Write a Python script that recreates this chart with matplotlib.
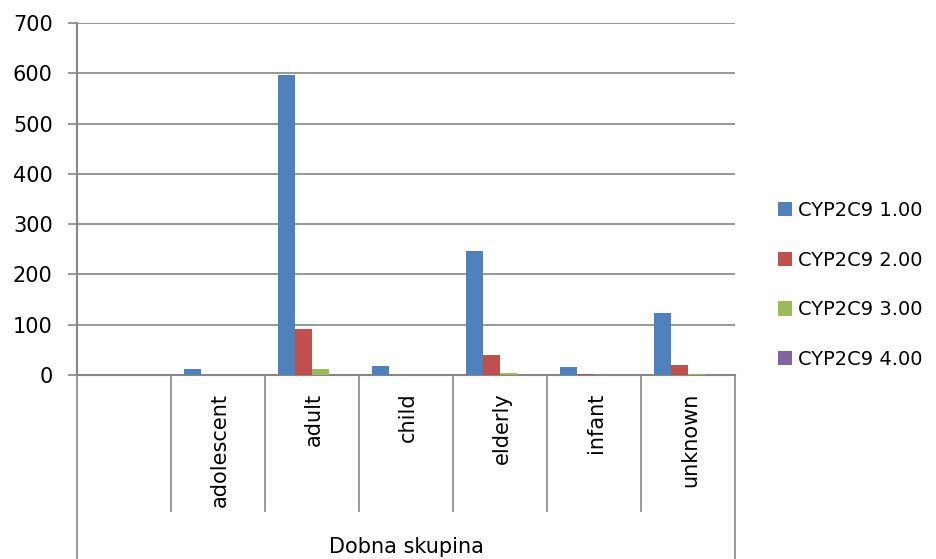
import matplotlib
matplotlib.use("Agg")
import matplotlib.pyplot as plt
import numpy as np

categories = ["", "adolescent", "adult", "child", "elderly", "infant", "unknown"]
series_names = ["CYP2C9 1.00", "CYP2C9 2.00", "CYP2C9 3.00", "CYP2C9 4.00"]
cyp_1 = [0, 12, 596, 17, 247, 15, 123]
cyp_2 = [0, 0, 91, 0, 39, 2, 20]
cyp_3 = [0, 0, 12, 0, 3, 0, 2]
cyp_4 = [0, 0, 0, 0, 0, 0, 0]
colors = ["#4f81bd", "#c0504d", "#9bbb59", "#8064a2"]

plt.rcParams["font.family"] = ["DejaVu Sans"]
GRID = "#868686"

fig = plt.figure(figsize=(9.36, 5.59), dpi=100)
ax = fig.add_axes([77 / 936, 1 - 375 / 559, (735 - 77) / 936, (375 - 23) / 559])

x = np.arange(len(categories))
w = 1 / 5.5
for i, (vals, name, c) in enumerate(zip([cyp_1, cyp_2, cyp_3, cyp_4], series_names, colors)):
    ax.bar(x + (i - 1.5) * w, vals, width=w, color=c, label=name, zorder=3)

ax.set_xlim(-0.5, len(categories) - 0.5)
ax.set_ylim(0, 700)
ax.set_yticks(range(0, 701, 100))
ax.yaxis.grid(True, color=GRID, linewidth=1.2, zorder=0)
ax.tick_params(axis="y", length=6.5, width=1.2, color=GRID, labelsize=15, pad=11)
ax.set_xticks([])
for s in ["top", "right"]:
    ax.spines[s].set_visible(False)
for s in ["left", "bottom"]:
    ax.spines[s].set_color(GRID)
    ax.spines[s].set_linewidth(1.5)

# multi-level category axis below the plot
tr = ax.get_xaxis_transform()
for b in np.arange(len(categories) + 1) - 0.5:
    outer = b in (-0.5, len(categories) - 0.5)
    ax.plot([b, b], [0, -0.525 if outer else -0.385], transform=tr,
            color=GRID, linewidth=1.2, clip_on=False)
for xi, lab in zip(x, categories):
    ax.text(xi + 0.02, -0.05, lab, transform=tr, rotation=90, ha="center", va="top",
            fontsize=15)
ax.text(3.0, -0.49, "Dobna skupina", transform=tr, ha="center", va="center",
        fontsize=15)

ax.legend(loc="center left", bbox_to_anchor=(1.065, 0.256), frameon=False, fontsize=14,
          borderpad=0, borderaxespad=0, handlelength=0.75, handleheight=0.75,
          labelspacing=1.58, handletextpad=0.3)

fig.savefig("out.png", dpi=100)
